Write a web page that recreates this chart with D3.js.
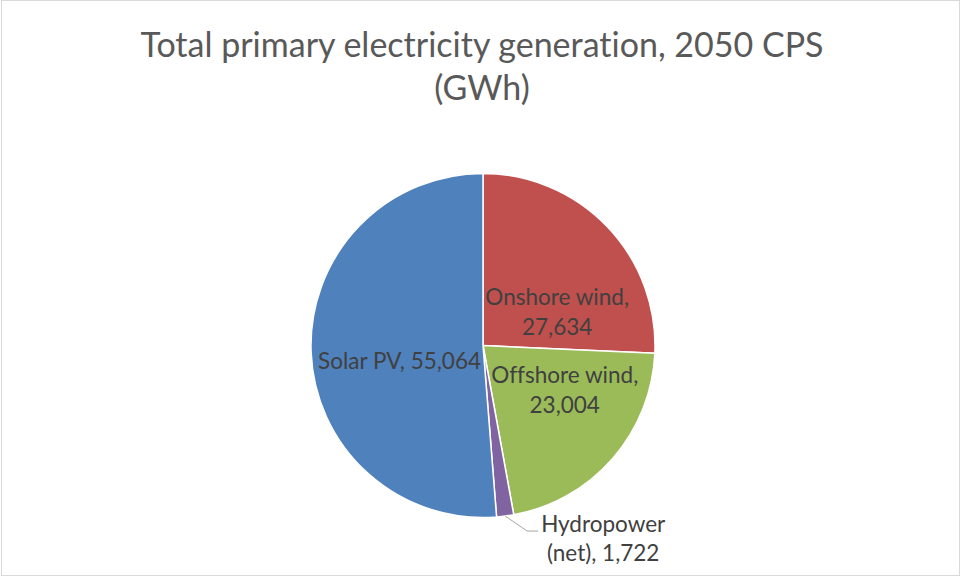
<!DOCTYPE html>
<html>
<head>
<meta charset="utf-8">
<script src="https://cdn.jsdelivr.net/npm/d3@7"></script>
<style>
  html, body { margin: 0; padding: 0; background: #fff; }
  svg { display: block; }
  text { font-variant-ligatures: none; font-feature-settings: "liga" 0; }
</style>
</head>
<body>
<svg id="chart" width="961" height="577"></svg>
<script>
const categories = ["Onshore wind", "Offshore wind", "Hydropower (net)", "Solar PV"];
const values = [27634, 23004, 1722, 55064];
const colors = ["#C0504D", "#9BBB59", "#8064A2", "#4F81BD"];
const titleLines = ["Total primary electricity generation, 2050 CPS", "(GWh)"];

const W = 961, H = 577;
const svg = d3.select("#chart");
const fmt = d3.format(",");

svg.append("rect")
  .attr("x", 1.5).attr("y", 0.5)
  .attr("width", W - 3).attr("height", H - 2)
  .attr("fill", "#fff").attr("stroke", "#d9d9d9").attr("stroke-width", 1);

// Title
const title = svg.append("text")
  .attr("text-anchor", "middle")
  .attr("font-family", "Lato, 'Open Sans', sans-serif")
  .attr("font-size", 34)
  .attr("fill", "#595959");
titleLines.forEach((t, i) => {
  title.append("tspan").attr("x", 482).attr("y", 57 + i * 43).text(t);
});

const cx = 483, cy = 345.5, r = 172;
const data = categories.map((c, i) => ({ name: c, value: values[i], color: colors[i] }));
const pie = d3.pie().sort(null).value(d => d.value);
const arcs = pie(data);
const arc = d3.arc().innerRadius(0).outerRadius(r);
const labelArc = d3.arc().innerRadius(r * 0.5).outerRadius(r * 0.5);

const g = svg.append("g").attr("transform", `translate(${cx},${cy})`);
g.selectAll("path.slice")
  .data(arcs)
  .join("path")
  .attr("class", "slice")
  .attr("d", arc)
  .attr("fill", d => d.data.color)
  .attr("stroke", "#fff")
  .attr("stroke-width", 1.5)
  .attr("stroke-linejoin", "round");

// Label layout (Excel "best fit" style): inside labels nudged from the centroid
const inside = {
  "Onshore wind": { dx: 12, dy: 27, lines: d => [d.data.name + ",", fmt(d.data.value)], anchor: "middle" },
  "Offshore wind": { dx: 17, dy: -11, lines: d => [d.data.name + ",", fmt(d.data.value)], anchor: "middle" },
  "Solar PV": { dx: 0, dy: 13, lines: d => [d.data.name + ", " + fmt(d.data.value)], anchor: "end", atCenter: true }
};
const labelFont = "Lato, 'Open Sans', sans-serif";
const labelSize = 22.5;
const lineH = 29.5;

arcs.forEach(d => {
  const cfg = inside[d.data.name];
  if (cfg) {
    let [x, y] = labelArc.centroid(d);
    if (cfg.atCenter) x = -2;
    const lines = cfg.lines(d);
    const t = g.append("text")
      .attr("text-anchor", cfg.anchor)
      .attr("font-family", labelFont)
      .attr("font-size", labelSize)
      .attr("fill", "#404040");
    const y0 = y + cfg.dy - (lines.length - 1) * lineH / 2 + 7;
    lines.forEach((ln, i) => {
      t.append("tspan").attr("x", x + cfg.dx).attr("y", y0 + i * lineH).text(ln);
    });
  } else {
    // outside label with leader line
    const mid = (d.startAngle + d.endAngle) / 2;
    const p0 = [Math.sin(mid) * r, -Math.cos(mid) * r];
    const p1 = [p0[0] + 22, p0[1] + 15];
    const p2 = [p1[0] + 11, p1[1]];
    g.append("polyline")
      .attr("points", [p0, p1, p2].map(p => p.join(",")).join(" "))
      .attr("fill", "none").attr("stroke", "#a6a6a6").attr("stroke-width", 1);
    const words = d.data.name.split(" ");
    const lines = [words[0], words.slice(1).join(" ") + ", " + fmt(d.data.value)];
    const t = g.append("text")
      .attr("text-anchor", "middle")
      .attr("font-family", labelFont)
      .attr("font-size", labelSize)
      .attr("fill", "#404040");
    lines.forEach((ln, i) => {
      t.append("tspan").attr("x", p2[0] + 65).attr("y", p2[1] + 1 + i * 29).text(ln);
    });
  }
});
</script>
</body>
</html>
